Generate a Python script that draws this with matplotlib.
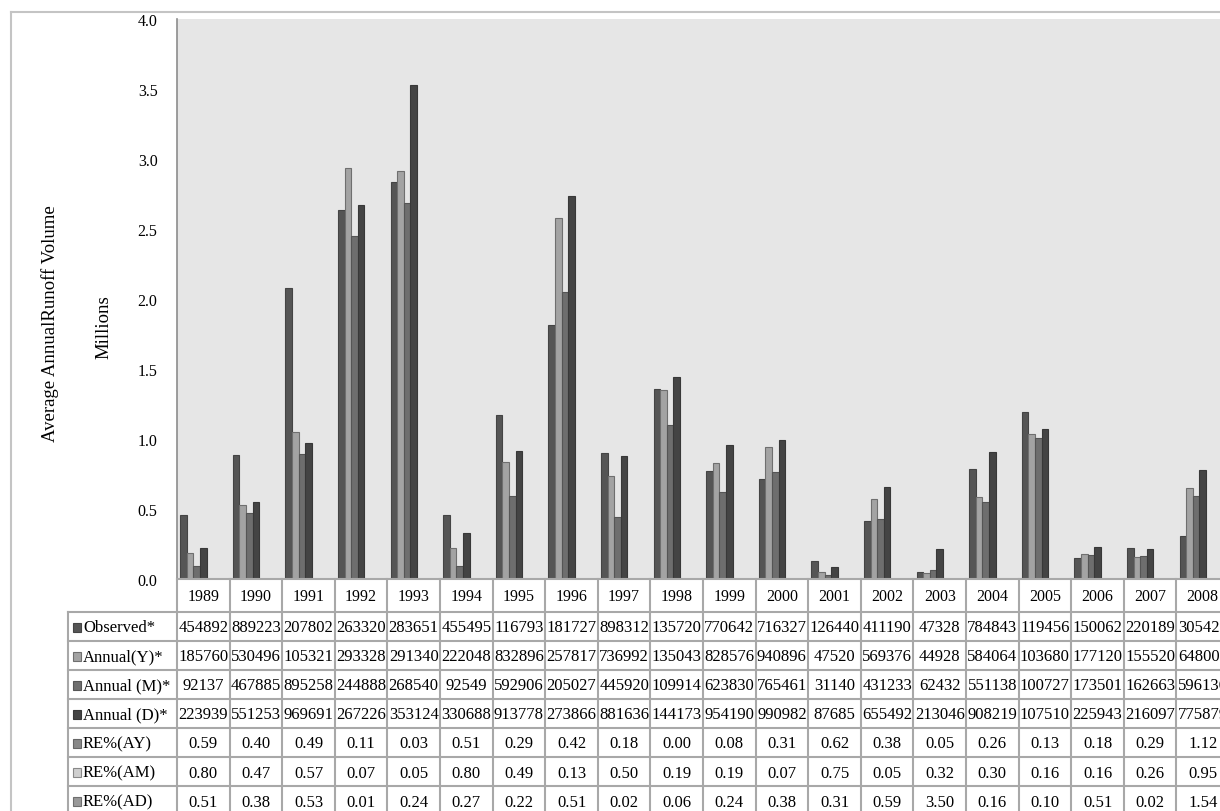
import matplotlib
matplotlib.use("Agg")
import matplotlib.pyplot as plt
from matplotlib.patches import Rectangle
from matplotlib.lines import Line2D

plt.rcParams['font.family'] = ['Liberation Serif', 'DejaVu Serif']

years = [str(y) for y in range(1989, 2009)]

observed_txt = ["454892", "889223", "207802", "263320", "283651", "455495", "116793", "181727", "898312", "135720",
                "770642", "716327", "126440", "411190", "47328", "784843", "119456", "150062", "220189", "305427"]
annual_y_txt = ["185760", "530496", "105321", "293328", "291340", "222048", "832896", "257817", "736992", "135043",
                "828576", "940896", "47520", "569376", "44928", "584064", "103680", "177120", "155520", "648000"]
annual_m_txt = ["92137", "467885", "895258", "244888", "268540", "92549", "592906", "205027", "445920", "109914",
                "623830", "765461", "31140", "431233", "62432", "551138", "100727", "173501", "162663", "596136"]
annual_d_txt = ["223939", "551253", "969691", "267226", "353124", "330688", "913778", "273866", "881636", "144173",
                "954190", "990982", "87685", "655492", "213046", "908219", "107510", "225943", "216097", "775879"]
re_ay = [0.59, 0.40, 0.49, 0.11, 0.03, 0.51, 0.29, 0.42, 0.18, 0.00, 0.08, 0.31, 0.62, 0.38, 0.05, 0.26, 0.13, 0.18, 0.29, 1.12]
re_am = [0.80, 0.47, 0.57, 0.07, 0.05, 0.80, 0.49, 0.13, 0.50, 0.19, 0.19, 0.07, 0.75, 0.05, 0.32, 0.30, 0.16, 0.16, 0.26, 0.95]
re_ad = [0.51, 0.38, 0.53, 0.01, 0.24, 0.27, 0.22, 0.51, 0.02, 0.06, 0.24, 0.38, 0.31, 0.59, 3.50, 0.16, 0.10, 0.51, 0.02, 1.54]

# bar heights in millions
observed = [0.455, 0.889, 2.078, 2.633, 2.837, 0.455, 1.168, 1.817, 0.898, 1.357,
            0.771, 0.716, 0.126, 0.411, 0.047, 0.785, 1.195, 0.150, 0.220, 0.305]
annual_y = [0.186, 0.530, 1.053, 2.933, 2.913, 0.222, 0.833, 2.578, 0.737, 1.350,
            0.829, 0.941, 0.048, 0.569, 0.045, 0.584, 1.037, 0.177, 0.156, 0.648]
annual_m = [0.092, 0.468, 0.895, 2.449, 2.685, 0.093, 0.593, 2.050, 0.446, 1.099,
            0.624, 0.765, 0.031, 0.431, 0.062, 0.551, 1.007, 0.174, 0.163, 0.596]
annual_d = [0.224, 0.551, 0.970, 2.672, 3.531, 0.331, 0.914, 2.739, 0.882, 1.442,
            0.954, 0.991, 0.088, 0.655, 0.213, 0.908, 1.075, 0.226, 0.216, 0.776]

series_names = ["Observed*", "Annual(Y)*", "Annual (M)*", "Annual (D)*", "RE%(AY)", "RE%(AM)", "RE%(AD)"]
series_vals = [observed, annual_y, annual_m, annual_d,
               [v / 1e6 for v in re_ay], [v / 1e6 for v in re_am], [v / 1e6 for v in re_ad]]
series_txt = [observed_txt, annual_y_txt, annual_m_txt, annual_d_txt,
              [f"{v:.2f}" for v in re_ay], [f"{v:.2f}" for v in re_am], [f"{v:.2f}" for v in re_ad]]
fills = ["#555555", "#a3a3a3", "#6e6e6e", "#444444", "#888888", "#cfcfcf", "#999999"]
edges = ["#444444", "#6f6f6f", "#555555", "#383838", "#666666", "#888888", "#6e6e6e"]

W, H = 1220, 812
fig = plt.figure(figsize=(W / 100, H / 100), dpi=100)

def px_axes(left, top, right, bottom):
    return fig.add_axes([left / W, (H - bottom) / H, (right - left) / W, (bottom - top) / H])

# outer border
fig.add_artist(Line2D([11 / W, 1.0], [(H - 12.5) / H] * 2, color="#c4c4c4", lw=1.5))
fig.add_artist(Line2D([11 / W] * 2, [(H - 12.5) / H, 0], color="#c4c4c4", lw=1.5))

col_w = 52.6
ax_left, ax_right = 177, 177 + 20 * col_w
ax = px_axes(ax_left, 20, ax_right, 580)
ax.set_facecolor("#e6e6e6")
ax.set_xlim(-0.5, 19.5)
ax.set_ylim(0, 4.0)
nser = len(series_vals)
bw = 0.125
for s in range(nser):
    xs = [i - bw * nser / 2 + bw * (s + 0.5) for i in range(len(years))]
    ax.bar(xs, series_vals[s], width=bw, color=fills[s], edgecolor=edges[s], linewidth=0.8, zorder=2)
ax.set_xticks([])
ax.set_yticks([0.0, 0.5, 1.0, 1.5, 2.0, 2.5, 3.0, 3.5, 4.0])
ax.set_yticklabels([f"{v:.1f}" for v in ax.get_yticks()], fontsize=11.5)
ax.tick_params(axis="y", length=0, pad=14)
for sp in ["top", "right", "bottom"]:
    ax.spines[sp].set_visible(False)
ax.spines["left"].set_color("#8c8c8c")
ax.spines["left"].set_linewidth(1.2)

fig.text(50 / W, (H - 324) / H, "Average AnnualRunoff Volume", rotation=90, fontsize=13.5,
         ha="center", va="center")
fig.text(104 / W, (H - 327) / H, "Millions", rotation=90, fontsize=13.5, ha="center", va="center")

# data table
leg_w = (177 - 68) / col_w
tax = px_axes(68, 580, ax_right, 820)
tax.set_xlim(-0.5 - leg_w, 19.5)
tax.set_ylim(240, 0)
tax.axis("off")
head_h = 32.5
row_h = 29.1
gc = "#a8a8a8"
glw = 1.5
n = len(years)
bottom = head_h + nser * row_h
# horizontal lines
tax.plot([-0.5, 19.5], [0, 0], color=gc, lw=glw, clip_on=False)
for r in range(nser + 1):
    y = head_h + r * row_h
    tax.plot([-0.5 - leg_w, 19.5], [y, y], color=gc, lw=glw, clip_on=False)
# vertical lines
for i in range(n + 1):
    tax.plot([i - 0.5, i - 0.5], [0, bottom], color=gc, lw=glw, clip_on=False)
tax.plot([-0.5 - leg_w] * 2, [head_h, bottom], color=gc, lw=glw, clip_on=False)

for i, yr in enumerate(years):
    tax.text(i, head_h / 2 + 1, yr, ha="center", va="center", fontsize=11.5, clip_on=False)
for s in range(nser):
    yc = head_h + (s + 0.5) * row_h + 1
    for i in range(n):
        tax.text(i, yc, series_txt[s][i], ha="center", va="center", fontsize=12, clip_on=False)
    mx = -0.5 - leg_w + 5 / col_w
    tax.add_patch(Rectangle((mx, yc - 4.5), 8 / col_w, 9, facecolor=fills[s], edgecolor=edges[s],
                            lw=0.8, clip_on=False))
    tax.text(mx + 10 / col_w, yc, series_names[s], ha="left", va="center", fontsize=12, clip_on=False)

fig.savefig("out.png", dpi=100)
